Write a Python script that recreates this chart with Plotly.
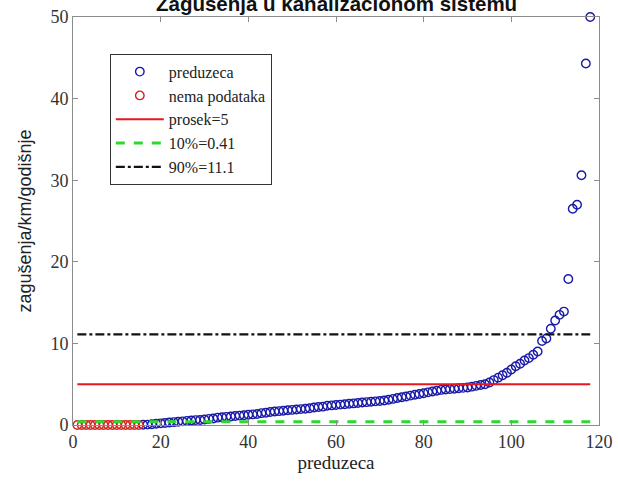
import plotly.graph_objects as go

title_text = "Zagušenja u kanalizacionom sistemu"
x_label = "preduzeca"
y_label = "zagušenja/km/godišnje"

# companies without data (plotted at 0)
nodata_x = list(range(1, 16))
nodata_y = [0] * 15

# companies with data, sorted ascending (x = 16..118)
firm_x = list(range(16, 119))
firm_y = [
    0.03, 0.05, 0.1, 0.15, 0.2, 0.25, 0.3, 0.35, 0.4, 0.45,
    0.5, 0.55, 0.6, 0.62, 0.68, 0.75, 0.8, 0.9, 0.95, 1.0,
    1.05, 1.1, 1.15, 1.2, 1.25, 1.3, 1.35, 1.45, 1.5, 1.6,
    1.65, 1.7, 1.75, 1.8, 1.85, 1.9, 1.95, 2.0, 2.05, 2.15,
    2.2, 2.25, 2.35, 2.4, 2.45, 2.5, 2.55, 2.6, 2.65, 2.7,
    2.75, 2.8, 2.85, 2.9, 2.95, 3.0, 3.1, 3.2, 3.3, 3.4,
    3.5, 3.6, 3.7, 3.8, 3.9, 4.0, 4.1, 4.2, 4.3, 4.35,
    4.4, 4.45, 4.5, 4.55, 4.6, 4.7, 4.8, 4.9, 5.0, 5.2,
    5.5, 5.8, 6.1, 6.4, 6.8, 7.2, 7.5, 7.9, 8.2, 8.6,
    9.0, 10.3, 10.6, 11.8, 12.8, 13.5, 13.9, 17.9, 26.5, 27.0,
    30.6, 44.3, 50.0,
]

line_x = [1, 118]
mean_val = 5
p10_val = 0.41
p90_val = 11.1

x_ticks = [0, 20, 40, 60, 80, 100, 120]
y_ticks = [0, 10, 20, 30, 40, 50]

serif = "Liberation Serif, Times New Roman, serif"
sans = "Liberation Sans, Arial, sans-serif"

fig = go.Figure()
fig.add_trace(go.Scatter(
    x=firm_x, y=firm_y, mode="markers", name="preduzeca",
    marker=dict(symbol="circle-open", size=8.5, color="#1a1aa8", line=dict(width=1.4)),
    cliponaxis=False,
))
fig.add_trace(go.Scatter(
    x=nodata_x, y=nodata_y, mode="markers", name="nema podataka",
    marker=dict(symbol="circle-open", size=8.5, color="#d42020", line=dict(width=1.4)),
    cliponaxis=False,
))
fig.add_trace(go.Scatter(
    x=line_x, y=[mean_val] * 2, mode="lines", name="prosek=5",
    line=dict(color="#e8161e", width=2),
))
fig.add_trace(go.Scatter(
    x=line_x, y=[p10_val] * 2, mode="lines", name="10%=0.41",
    line=dict(color="#2ed82e", width=3, dash="dash"),
))
fig.add_trace(go.Scatter(
    x=line_x, y=[p90_val] * 2, mode="lines", name="90%=11.1",
    line=dict(color="#111111", width=2.2, dash="dashdot"),
))

axis_common = dict(
    showline=True, linecolor="#8c8c8c", linewidth=1, mirror="ticks",
    ticks="inside", ticklen=5, tickcolor="#8c8c8c",
    showgrid=False, zeroline=False, automargin=False,
    tickfont=dict(family=serif, size=18, color="#333333"),
)

fig.update_layout(
    width=618, height=489,
    margin=dict(l=73, r=19, t=17, b=64),
    paper_bgcolor="white", plot_bgcolor="white",
    showlegend=True,
    legend=dict(
        x=0.07, y=0.91, xanchor="left", yanchor="top",
        bordercolor="#333333", borderwidth=1, bgcolor="white",
        font=dict(family=serif, size=16, color="#222222"),
        itemwidth=48, tracegroupgap=0,
    ),
    xaxis=dict(range=[0, 120], tickvals=x_ticks, **axis_common,
               title=dict(text=x_label, font=dict(family=serif, size=19, color="#222222"), standoff=4)),
    yaxis=dict(range=[0, 50], tickvals=y_ticks, **axis_common,
               title=dict(text=y_label, font=dict(family=sans, size=18, color="#222222"), standoff=14)),
    annotations=[dict(
        text="<b>" + title_text + "</b>", xref="paper", yref="paper",
        x=0.5, y=1.0, xanchor="center", yanchor="bottom", showarrow=False, yshift=0,
        font=dict(family=sans, size=20.5, color="#111111"),
    )],
)

fig.write_html("out.html", config={"displayModeBar": False},
               post_script="document.body.style.margin='0';")
